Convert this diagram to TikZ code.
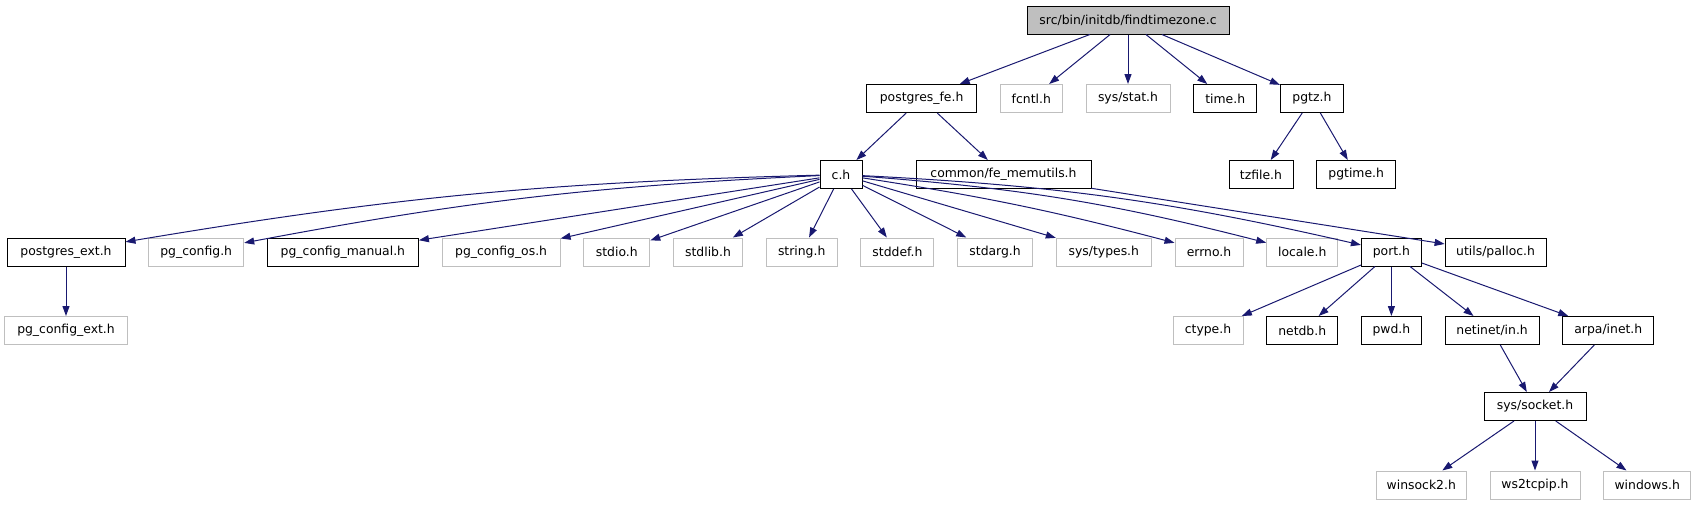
\documentclass[tikz,border=0pt]{standalone}
\usepackage{fontspec}
\setmainfont{DejaVu Sans}
\usepackage{tikz}
\usetikzlibrary{arrows.meta, positioning}
\definecolor{edgeblue}{HTML}{191970}
\definecolor{greyline}{HTML}{BFBFBF}
\tikzstyle{mainfile} = [rectangle, minimum height=28pt, inner xsep=2pt, text centered, draw=black, fill=greyline, line width=1pt]
\tikzstyle{header} = [rectangle, minimum height=28pt, inner xsep=2pt, text centered, draw=black, line width=1pt]
\tikzstyle{sysheader} = [rectangle, minimum height=28pt, inner xsep=2pt, text centered, draw=greyline, line width=1pt]
\tikzstyle{arrow} = [->, >={Triangle[length=10pt, width=7pt]}, draw=edgeblue, line width=1pt]

\begin{document}
\begin{tikzpicture}[x=1pt, y=-1pt, node distance=49.5pt and 22.7pt, font=\fontsize{12.4}{14}\selectfont]
  \useasboundingbox (0,0) rectangle (1695,504);

  % file and its direct includes
  \node (top) [mainfile, minimum width=202pt] at (1128,20) {src/bin/initdb/findtimezone.c};
  \node (stat) [sysheader, minimum width=84pt, below=of top] {sys/stat.h};
  \node (fcntl) [sysheader, minimum width=62pt, left=of stat] {fcntl.h};
  \node (fe) [header, minimum width=110pt, left=of fcntl] {postgres\_fe.h};
  \node (time) [header, minimum width=63pt, right=of stat] {time.h};
  \node (pgtz) [header, minimum width=63pt, right=of time] {pgtz.h};

  \node (ch) [header, minimum width=42pt] at (841,174.5) {c.h};
  \node (memu) [header, minimum width=175pt] at (1003.5,174.5) {common/fe\_memutils.h};
  \node (tzf) [header, minimum width=64pt] at (1261,174.5) {tzfile.h};
  \node (pgtime) [header, minimum width=79pt, right=of tzf] {pgtime.h};

  % what c.h pulls in
  \node (ext) [header, minimum width=118pt] at (66,252) {postgres\_ext.h};
  \node (cfg) [sysheader, minimum width=95pt, right=of ext] {pg\_config.h};
  \node (manual) [header, minimum width=151pt, right=of cfg] {pg\_config\_manual.h};
  \node (os) [sysheader, minimum width=118pt, right=of manual] {pg\_config\_os.h};
  \node (stdio) [sysheader, minimum width=66pt, right=of os] {stdio.h};
  \node (stdlib) [sysheader, minimum width=69pt, right=of stdio] {stdlib.h};
  \node (string) [sysheader, minimum width=71pt, right=of stdlib] {string.h};
  \node (stddef) [sysheader, minimum width=73pt, right=of string] {stddef.h};
  \node (stdarg) [sysheader, minimum width=75pt, right=of stddef] {stdarg.h};
  \node (types) [sysheader, minimum width=95pt, right=of stdarg] {sys/types.h};
  \node (errno) [sysheader, minimum width=68pt, right=of types] {errno.h};
  \node (locale) [sysheader, minimum width=71pt, right=of errno] {locale.h};
  \node (port) [header, minimum width=60pt, right=of locale] {port.h};
  \node (palloc) [header, minimum width=101pt, right=of port] {utils/palloc.h};

  \node (cfgext) [sysheader, minimum width=123pt, below=of ext] {pg\_config\_ext.h};
  \node (pwd) [header, minimum width=60pt, below=of port] {pwd.h};
  \node (netdb) [header, minimum width=71pt, left=of pwd] {netdb.h};
  \node (ctype) [sysheader, minimum width=70pt, left=of netdb] {ctype.h};
  \node (netin) [header, minimum width=94pt, right=of pwd] {netinet/in.h};
  \node (inet) [header, minimum width=91pt, right=of netin] {arpa/inet.h};

  \node (sock) [header, minimum width=102pt] at (1535,406.5) {sys/socket.h};
  \node (tcpip) [sysheader, minimum width=90pt, below=of sock] {ws2tcpip.h};
  \node (winsock) [sysheader, minimum width=90pt, left=of tcpip] {winsock2.h};
  \node (windows) [sysheader, minimum width=87pt, right=of tcpip] {windows.h};

  \draw [arrow] (top) -- (fe);
  \draw [arrow] (top) -- (fcntl);
  \draw [arrow] (top) -- (stat);
  \draw [arrow] (top) -- (time);
  \draw [arrow] (top) -- (pgtz);
  \draw [arrow] (fe) -- (ch);
  \draw [arrow] (fe) -- (memu);
  \draw [arrow] (pgtz) -- (tzf);
  \draw [arrow] (pgtz) -- (pgtime);
  \draw [arrow] (ch) to [bend right=4] (ext);
  \draw [arrow] (ch) to [bend right=4] (cfg);
  \draw [arrow] (ch) -- (manual);
  \draw [arrow] (ch) -- (os);
  \draw [arrow] (ch) -- (stdio);
  \draw [arrow] (ch) -- (stdlib);
  \draw [arrow] (ch) -- (string);
  \draw [arrow] (ch) -- (stddef);
  \draw [arrow] (ch) -- (stdarg);
  \draw [arrow] (ch) -- (types);
  \draw [arrow] (ch) to [bend left=3] (errno);
  \draw [arrow] (ch) to [bend left=5] (locale);
  \draw [arrow] (ch) to [bend left=5] (port);
  \draw [arrow] (memu) -- (palloc);
  \draw [arrow] (ext) -- (cfgext);
  \draw [arrow] (port) -- (ctype);
  \draw [arrow] (port) -- (netdb);
  \draw [arrow] (port) -- (pwd);
  \draw [arrow] (port) -- (netin);
  \draw [arrow] (port) -- (inet);
  \draw [arrow] (netin) -- (sock);
  \draw [arrow] (inet) -- (sock);
  \draw [arrow] (sock) -- (winsock);
  \draw [arrow] (sock) -- (tcpip);
  \draw [arrow] (sock) -- (windows);
\end{tikzpicture}
\end{document}
